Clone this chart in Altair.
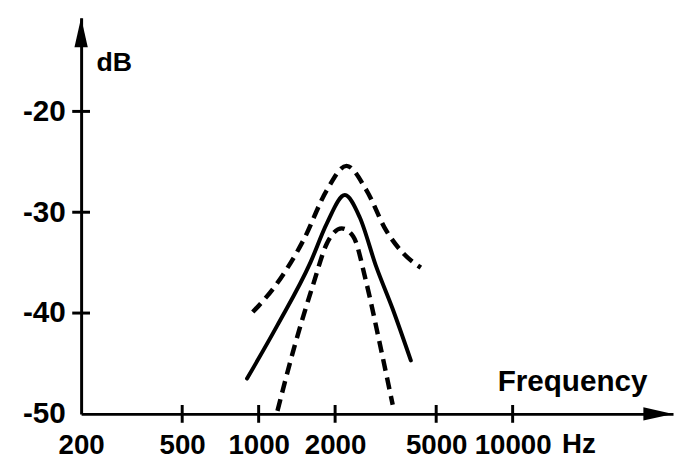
import altair as alt
import pandas as pd

# ---- data ----
solid_freq = [900, 1186, 1598, 1856, 2185, 2500, 2903, 3371, 3973]
solid_db = [-46.5, -41.2, -35.0, -31.1, -28.3, -30.5, -35.4, -39.6, -44.7]

upper_freq = [948, 1186, 1506, 1856, 2218, 2655, 3176, 3687, 4350]
upper_db = [-39.9, -37.0, -32.7, -27.8, -25.4, -27.8, -31.8, -34.0, -35.5]

lower_freq = [1186, 1377, 1647, 1856, 2123, 2357, 2655, 2991, 3371]
lower_db = [-49.7, -43.5, -37.0, -33.1, -31.6, -32.4, -37.0, -42.9, -49.1]

x_label_values = [200, 500, 1000, 2000, 5000, 10000]
x_tick_values = [500, 1000, 2000, 5000, 10000]
y_label_values = [-50, -40, -30, -20]
y_tick_values = [-40, -30, -20]
x_min, x_max = 200, 42800
y_min, y_max = -50, -10.7

FONT = "Liberation Sans, Arial, sans-serif"

xs = alt.Scale(type="log", domain=[x_min, x_max], nice=False)
ys = alt.Scale(domain=[y_min, y_max], nice=False, zero=False)

x_axis = alt.Axis(
    values=x_label_values, labelExpr="'' + datum.value",
    ticks=False, tickSize=0, grid=False,
    domainWidth=3, domainColor="black", domainCap="butt",
    labelFont=FONT, labelFontSize=28, labelFontWeight="bold", labelColor="black",
    labelPadding=18, labelFlush=False, labelOverlap=False,
    title="Frequency", titleFont=FONT, titleFontSize=30,
    titleFontWeight="bold", titleColor="black",
    titleX=421, titleY=-24, titleAlign="left", titleBaseline="alphabetic",
)
y_axis = alt.Axis(
    values=y_label_values, labelExpr="'-' + abs(datum.value)",
    ticks=False, tickSize=0, grid=False,
    domainWidth=3, domainColor="black", domainCap="butt",
    labelFont=FONT, labelFontSize=30, labelFontWeight="bold", labelColor="black",
    labelPadding=16, labelOverlap=False, labelFlush=False,
    title="dB", titleFont=FONT, titleFontSize=27,
    titleFontWeight="bold", titleColor="black", titleAngle=0,
    titleX=15, titleY=53, titleAlign="left", titleBaseline="alphabetic",
)

solid_df = pd.DataFrame({"f": solid_freq, "db": solid_db})
upper_df = pd.DataFrame({"f": upper_freq, "db": upper_db})
lower_df = pd.DataFrame({"f": lower_freq, "db": lower_db})

solid = alt.Chart(solid_df).mark_line(
    color="black", strokeWidth=4, interpolate="monotone", strokeCap="round"
).encode(
    x=alt.X("f:Q", scale=xs, axis=x_axis),
    y=alt.Y("db:Q", scale=ys, axis=y_axis),
)

upper = alt.Chart(upper_df).mark_line(
    color="black", strokeWidth=4.5, interpolate="monotone", strokeDash=[12, 7]
).encode(x=alt.X("f:Q", scale=xs), y=alt.Y("db:Q", scale=ys))

lower = alt.Chart(lower_df).mark_line(
    color="black", strokeWidth=4.5, interpolate="monotone", strokeDash=[12, 7]
).encode(x=alt.X("f:Q", scale=xs), y=alt.Y("db:Q", scale=ys))

xt_df = pd.DataFrame({"f": x_tick_values, "db": [y_min] * len(x_tick_values)})
yt_df = pd.DataFrame({"f": [x_min] * len(y_tick_values), "db": y_tick_values})

x_ticks = alt.Chart(xt_df).mark_tick(
    orient="vertical", size=18, thickness=3, color="black", opacity=1
).encode(x=alt.X("f:Q", scale=xs), y=alt.Y("db:Q", scale=ys))

y_ticks = alt.Chart(yt_df).mark_tick(
    orient="horizontal", size=18, thickness=3, color="black", opacity=1
).encode(x=alt.X("f:Q", scale=xs), y=alt.Y("db:Q", scale=ys))

x_arrow = alt.Chart(pd.DataFrame({"f": [x_max], "db": [y_min]})).mark_point(
    shape="M0,0L-2,-0.45L-2,0.45Z", size=900, filled=True, color="black",
    opacity=1, strokeWidth=0,
).encode(x=alt.X("f:Q", scale=xs), y=alt.Y("db:Q", scale=ys))

y_arrow = alt.Chart(pd.DataFrame({"f": [x_min], "db": [y_max]})).mark_point(
    shape="M0,0L0.45,2L-0.45,2Z", size=900, filled=True, color="black",
    opacity=1, strokeWidth=0,
).encode(x=alt.X("f:Q", scale=xs), y=alt.Y("db:Q", scale=ys))

hz = alt.Chart(pd.DataFrame({"f": [10000], "db": [y_min], "t": ["Hz"]})).mark_text(
    font=FONT, fontSize=28, fontWeight="bold", color="black", align="left",
    baseline="top", dx=50, dy=18,
).encode(x=alt.X("f:Q", scale=xs), y=alt.Y("db:Q", scale=ys), text="t:N")

chart = alt.layer(
    solid, upper, lower, x_ticks, y_ticks, x_arrow, y_arrow, hz
).properties(
    width=599, height=401,
    padding={"left": 74, "top": 7, "right": 2, "bottom": 51},
    autosize=alt.AutoSizeParams(type="none"),
    background="white",
).configure_view(stroke=None)

chart.save("out.html", embed_options={"renderer": "svg", "actions": False})
